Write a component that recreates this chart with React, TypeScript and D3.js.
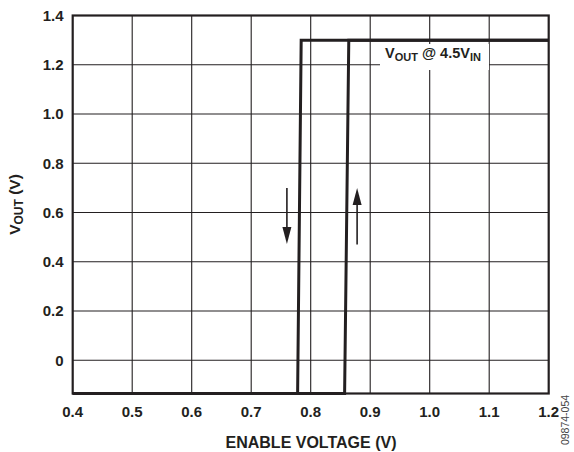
import React from "react";
import * as d3 from "d3";

const xTicks = [0.4, 0.5, 0.6, 0.7, 0.8, 0.9, 1.0, 1.1, 1.2];
const yTicks = [0, 0.2, 0.4, 0.6, 0.8, 1.0, 1.2, 1.4];
const xTickLabels = ["0.4", "0.5", "0.6", "0.7", "0.8", "0.9", "1.0", "1.1", "1.2"];
const yTickLabels = ["0", "0.2", "0.4", "0.6", "0.8", "1.0", "1.2", "1.4"];

const yMin = -0.135;
// falling (enable voltage decreasing)
const fallX = [1.2, 0.784, 0.778, 0.4];
const fallY = [1.3, 1.3, yMin, yMin];
// rising (enable voltage increasing)
const riseX = [0.4, 0.857, 0.864, 1.2];
const riseY = [yMin, yMin, 1.3, 1.3];

const downArrow = { x: 0.76, from: 0.7, to: 0.472 };
const upArrow = { x: 0.878, from: 0.47, to: 0.7 };

const W = 574;
const H = 452;
const M = { left: 72.7, right: 548.7, top: 15.5, bottom: 393.5 };
const FONT = "'Liberation Sans', Arial, Helvetica, sans-serif";
const INK = "#231f20";

export default function App() {
  const x = d3.scaleLinear().domain([0.4, 1.2]).range([M.left, M.right]);
  const y = d3.scaleLinear().domain([yMin, 1.4]).range([M.bottom, M.top]);
  const line = d3
    .line<[number, number]>()
    .x((d) => x(d[0]))
    .y((d) => y(d[1]));
  const fall = fallX.map((v, i) => [v, fallY[i]] as [number, number]);
  const rise = riseX.map((v, i) => [v, riseY[i]] as [number, number]);

  // label box
  const boxX0 = 380, boxX1 = 489, boxY0 = 44, boxY1 = 70;

  const arrow = (a: { x: number; from: number; to: number }, key: string) => {
    const ax = x(a.x);
    const y0 = y(a.from);
    const y1 = y(a.to);
    const dir = y1 > y0 ? 1 : -1;
    const headLen = 17;
    const headW = 4.5;
    const yb = y1 - dir * headLen;
    return (
      <g key={key}>
        <line x1={ax} x2={ax} y1={y0} y2={yb} stroke={INK} strokeWidth={1.6} />
        <path d={`M${ax - headW},${yb} L${ax + headW},${yb} L${ax},${y1} Z`} fill={INK} />
      </g>
    );
  };

  return (
    <svg
      width={W}
      height={H}
      style={{ position: "absolute", left: 0, top: 0, background: "#fff" }}
      fontFamily={FONT}
    >
      <rect x={0} y={0} width={W} height={H} fill="#fff" />
      {/* grid */}
      {xTicks.slice(1, -1).map((t) => (
        <line key={"gx" + t} x1={x(t)} x2={x(t)} y1={M.top} y2={M.bottom} stroke={INK} strokeWidth={1.1} />
      ))}
      {yTicks.filter((t) => t < 1.4).map((t) => (
        <line key={"gy" + t} x1={M.left} x2={M.right} y1={y(t)} y2={y(t)} stroke={INK} strokeWidth={1.1} />
      ))}
      {/* label background box */}
      <rect x={boxX0} y={boxY0} width={boxX1 - boxX0} height={boxY1 - boxY0} fill="#fff" />
      {/* frame */}
      <rect
        x={M.left}
        y={M.top}
        width={M.right - M.left}
        height={M.bottom - M.top}
        fill="none"
        stroke={INK}
        strokeWidth={2.2}
      />
      {/* curves */}
      <path d={line(fall) || ""} fill="none" stroke={INK} strokeWidth={3} strokeLinejoin="miter" />
      <path d={line(rise) || ""} fill="none" stroke={INK} strokeWidth={3} strokeLinejoin="miter" />
      {arrow(downArrow, "down")}
      {arrow(upArrow, "up")}
      {/* label */}
      <text x={385} y={58} fontSize={14.5} fontWeight="bold" fill={INK}>
        V<tspan fontSize={11} dy={3}>OUT</tspan>
        <tspan dy={-3}> @ 4.5V</tspan>
        <tspan fontSize={11} dy={3}>IN</tspan>
      </text>
      {/* y tick labels */}
      {yTicks.map((t, i) => (
        <text
          key={"yl" + t}
          x={63.5}
          y={y(t)}
          dy="0.36em"
          textAnchor="end"
          fontSize={15}
          fontWeight="bold"
          fill={INK}
        >
          {yTickLabels[i]}
        </text>
      ))}
      {/* x tick labels */}
      {xTicks.map((t, i) => (
        <text
          key={"xl" + t}
          x={x(t)}
          y={417}
          textAnchor="middle"
          fontSize={15}
          fontWeight="bold"
          fill={INK}
        >
          {xTickLabels[i]}
        </text>
      ))}
      {/* axis titles */}
      <text x={311} y={447.5} textAnchor="middle" fontSize={16} fontWeight="bold" fill={INK}>
        ENABLE VOLTAGE (V)
      </text>
      <text
        transform={`translate(20,${(M.top + M.bottom) / 2}) rotate(-90)`}
        textAnchor="middle"
        fontSize={15.5}
        fontWeight="bold"
        fill={INK}
      >
        V<tspan fontSize={12} dy={3}>OUT</tspan>
        <tspan dy={-3}> (V)</tspan>
      </text>
      <text
        transform={`translate(569,420) rotate(-90)`}
        textAnchor="middle"
        fontSize={10.5}
        fill="#444"
      >
        09874-054
      </text>
    </svg>
  );
}
